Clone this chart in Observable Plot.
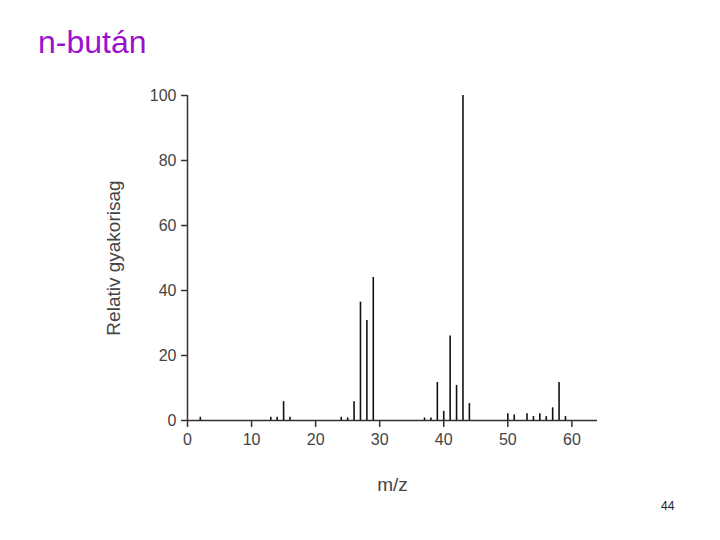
<!DOCTYPE html>
<html>
<head>
<meta charset="utf-8">
<script src="https://cdn.jsdelivr.net/npm/d3@7"></script>
<script src="https://cdn.jsdelivr.net/npm/@observablehq/plot@0.6"></script>
<style>
  html, body { margin: 0; padding: 0; background: #fff; }
  #wrap { position: relative; width: 720px; height: 540px; overflow: hidden; }
  #title { position: absolute; left: 38px; top: 26px; font: 32px "Liberation Sans", Arial, sans-serif; color: #9a10cc; line-height: 1; }
  #page { position: absolute; left: 661px; top: 499px; font: 12px "Liberation Sans", Arial, sans-serif; color: #222; }
  #chart { position: absolute; left: 0; top: 0; }
  g[aria-label="y-axis label"] text, g[aria-label="x-axis label"] text { font-size: 19px; }
</style>
</head>
<body>
<div id="wrap">
  <div id="chart"></div>
  <div id="title">n-bután</div>
  <div id="page">44</div>
</div>
<script>
const mz = [2, 13, 14, 15, 16, 24, 25, 26, 27, 28, 29, 37, 38, 39, 40, 41, 42, 43, 44, 50, 51, 53, 54, 55, 56, 57, 58, 59];
const intensity = [1, 1, 1, 5.8, 1, 1, 0.8, 5.8, 36.4, 30.8, 44, 0.8, 0.8, 11.7, 2.8, 26, 10.8, 100, 5.2, 2.1, 1.7, 2.1, 1.2, 2.1, 1.2, 3.9, 11.7, 1.2];
const xTicks = [0, 10, 20, 30, 40, 50, 60];
const yTicks = [0, 20, 40, 60, 80, 100];
const xLabel = "m/z";
const yLabel = "Relativ gyakorisag";

const data = mz.map((m, i) => ({mz: m, i: intensity[i]}));

const chart = Plot.plot({
  width: 720,
  height: 540,
  marginTop: 95,
  marginBottom: 120,
  marginLeft: 187,
  marginRight: 123,
  style: {fontFamily: "'Liberation Sans', Arial, sans-serif", fontSize: "16px", color: "#444", background: "transparent"},
  x: {domain: [0, 64]},
  y: {domain: [0, 100]},
  marks: [
    Plot.axisX({ticks: xTicks, tickSize: 7, tickPadding: 6, stroke: "#333", strokeWidth: 1.5, label: xLabel, labelAnchor: "center", labelArrow: "none", labelOffset: 70, fill: "#444"}),
    Plot.axisY({ticks: yTicks, tickSize: 6, tickPadding: 5, stroke: "#333", strokeWidth: 1.5, label: yLabel, labelAnchor: "center", labelArrow: "none", labelOffset: 81, fill: "#444"}),
    Plot.ruleY([0], {stroke: "#333", strokeWidth: 1.5}),
    Plot.ruleX([0], {stroke: "#333", strokeWidth: 1.5}),
    Plot.ruleX(data, {x: "mz", y1: 0, y2: "i", stroke: "#111", strokeWidth: 1.6})
  ]
});
document.getElementById("chart").appendChild(chart);
</script>
</body>
</html>
